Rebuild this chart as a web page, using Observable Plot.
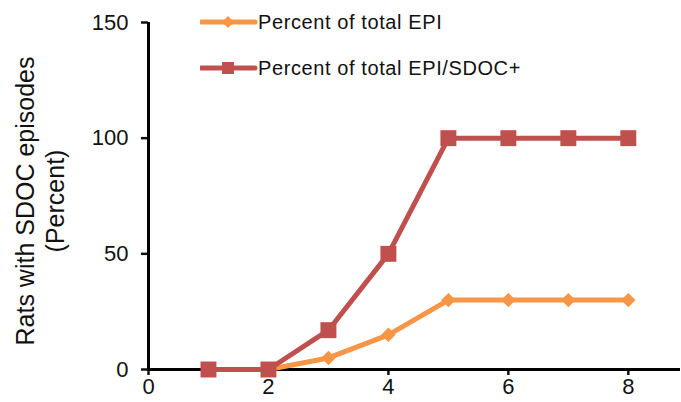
<!DOCTYPE html>
<html>
<head>
<meta charset="utf-8">
<script src="https://cdn.jsdelivr.net/npm/d3@7"></script>
<script src="https://cdn.jsdelivr.net/npm/@observablehq/plot@0.6"></script>
<style>
  html, body { margin: 0; padding: 0; background: #fff; }
  #wrap { position: relative; width: 681px; height: 402px; font-family: "Liberation Sans", Arial, sans-serif; }
  #legend { position: absolute; left: 200px; top: 0; font-size: 20px; letter-spacing: 0.6px; color: #111; }
  .item { position: absolute; left: 0; display: flex; align-items: center; white-space: nowrap; }
  .item svg { display: block; }
</style>
</head>
<body>
<div id="wrap">
  <div id="chart"></div>
  <div id="legend"></div>
</div>
<script>
const days = [1, 2, 3, 4, 5, 6, 7, 8];
const pctEPI = [0, 0, 5, 15, 30, 30, 30, 30];
const pctEPISDOC = [0, 0, 17, 50, 100, 100, 100, 100];
const seriesNames = ["Percent of total EPI", "Percent of total EPI/SDOC+"];
const seriesColors = ["#F79646", "#C0504D"];
const xTicks = [0, 2, 4, 6, 8];
const yTicks = [0, 50, 100, 150];
const yLabel = "Rats with SDOC episodes\n(Percent)";

const epi = days.map((d, i) => ({day: d, value: pctEPI[i]}));
const sdoc = days.map((d, i) => ({day: d, value: pctEPISDOC[i]}));

const plot = Plot.plot({
  width: 681,
  height: 402,
  marginLeft: 148,
  marginRight: 1,
  marginTop: 22,
  marginBottom: 33,
  style: {fontFamily: "Liberation Sans, Arial, sans-serif", fontSize: "22px", color: "#111", background: "#fff"},
  x: {domain: [0, 8.87]},
  y: {domain: [0, 150]},
  marks: [
    Plot.axisX({ticks: xTicks, tickSize: 6, tickPadding: 3, tickFormat: d => d, label: null, fontSize: 22, strokeWidth: 2.5}),
    Plot.axisY({ticks: yTicks, tickSize: 7, tickPadding: 13, tickFormat: d => d, label: null, fontSize: 22, strokeWidth: 2.5}),
    Plot.ruleY([0], {stroke: "#000", strokeWidth: 3}),
    Plot.ruleX([0], {stroke: "#000", strokeWidth: 3}),
    Plot.line(epi, {x: "day", y: "value", stroke: seriesColors[0], strokeWidth: 5}),
    Plot.dot(epi, {x: "day", y: "value", symbol: "diamond2", r: 6.5, fill: seriesColors[0], stroke: "none"}),
    Plot.line(sdoc, {x: "day", y: "value", stroke: seriesColors[1], strokeWidth: 5}),
    Plot.dot(sdoc, {x: "day", y: "value", symbol: "square", r: 9, fill: seriesColors[1], stroke: "none"}),
    Plot.text([yLabel], {text: d => d, frameAnchor: "left", dx: -109, dy: 5, rotate: -90, textAnchor: "middle", lineAnchor: "middle", lineHeight: 1.2, fontSize: 25, fill: "#111"})
  ]
});
document.getElementById("chart").appendChild(plot);

const legend = document.getElementById("legend");
const legendTops = [22, 68];
seriesNames.forEach((name, i) => {
  const item = document.createElement("div");
  item.className = "item";
  item.style.top = (legendTops[i] - 14) + "px";
  const marker = i === 0
    ? `<path d="M28 8 L34 14 L28 20 L22 14 Z" fill="${seriesColors[i]}"/>`
    : `<rect x="22" y="8" width="12" height="12" fill="${seriesColors[i]}"/>`;
  item.innerHTML = `<svg width="58" height="28"><line x1="1" y1="14" x2="55" y2="14" stroke="${seriesColors[i]}" stroke-width="5" stroke-linecap="round"/>${marker}</svg><span>${name}</span>`;
  legend.appendChild(item);
});
</script>
</body>
</html>
